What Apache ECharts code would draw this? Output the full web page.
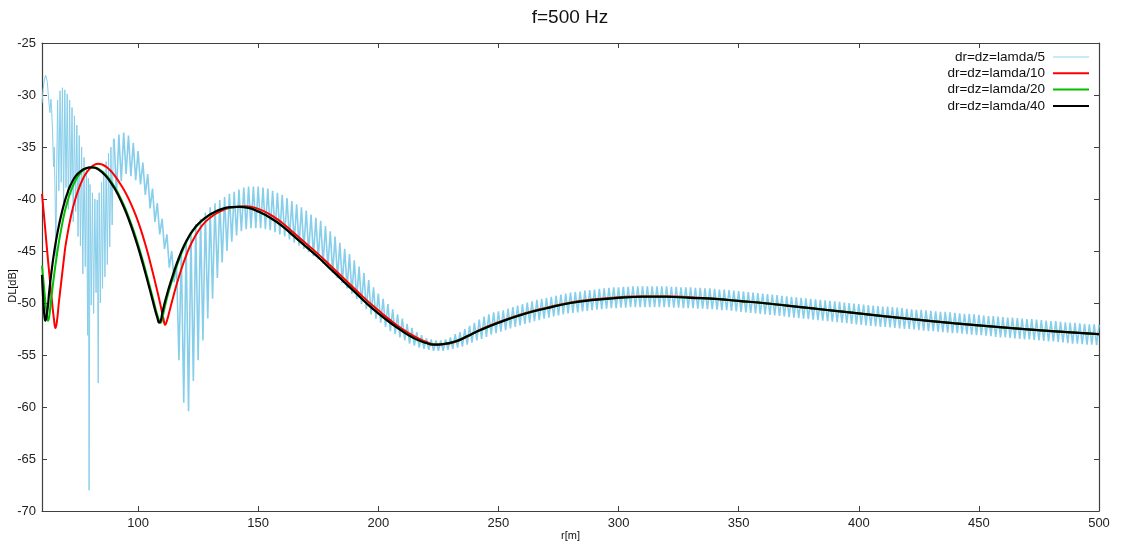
<!DOCTYPE html>
<html>
<head>
<meta charset="utf-8">
<script src="https://cdn.jsdelivr.net/npm/echarts@6.0.0/dist/echarts.min.js"></script>
<style>
  html, body { margin: 0; padding: 0; background: #fff; }
  #chart { width: 1121px; height: 546px; }
</style>
</head>
<body>
<div id="chart"></div>
<script>
// Transmission loss DL[dB] versus range r[m] at 500 Hz for four grid resolutions.

const xTicks = [100, 150, 200, 250, 300, 350, 400, 450, 500];
const seriesNames = ['dr=dz=lamda/5', 'dr=dz=lamda/10', 'dr=dz=lamda/20', 'dr=dz=lamda/40'];

// lamda/5: irregular near-field part, [r, DL]
const blueEarly = [
  [60,-30.8],[60.5,-29.4],[61,-28.5],[61.5,-28.1],[61.8,-28.05],[62.2,-28.7],[62.6,-29.9],[63,-31.0],
  [63.3,-31.7],[63.7,-30.4],[64,-31.3],[64.4,-33.6],[64.8,-36.9],[65.1,-35.0],[65.5,-40.2],[65.8,-45.5],
  [66.1,-37.5],[66.5,-30.5],[67,-39.2],[67.5,-29.6],[68,-38.4],[68.5,-29.3],[69,-40.3],[69.5,-29.5],
  [70,-38.9],[70.5,-29.9],[71,-41.0],[71.5,-30.5],[72,-39.6],[72.5,-31.2],[73,-42.2],[73.5,-32.0],
  [74,-41.2],[74.5,-32.9],[75,-43.6],[75.5,-33.9],[76,-44.5],[76.5,-35.0],[77,-47.2],[77.5,-36.0],
  [78,-46.5],[78.5,-37.0],[79,-53.1],[79.3,-38.0],[79.6,-68.0],[80,-38.6],[80.5,-50.2],[81,-39.4],
  [81.5,-51.0],[82,-40.0],[82.5,-49.0],[83,-40.1],[83.4,-57.7],[83.8,-39.4],[84.3,-50.0],[84.8,-38.4],
  [85.2,-48.6],[85.7,-37.3],[86.2,-47.5],[86.7,-36.4],[87.2,-46.3],[87.7,-35.6],[88.2,-44.6],[88.7,-35.0],
  [89.2,-42.5],[89.7,-34.5]
];
// lamda/5: crests at r = 90, 92, ..., 500
const blueUpper = [
  -34.2,-33.8,-33.6,-33.9,-34.6,-35.4,-36.5,-37.6,-39.0,-40.4,
  -41.9,-43.4,-45.0,-46.3,-45.2,-44.0,-43.3,-42.4,-41.9,-41.3,
  -40.8,-40.4,-40.1,-39.8,-39.5,-39.3,-39.1,-38.9,-38.8,-38.8,
  -38.8,-38.9,-39.0,-39.2,-39.4,-39.6,-39.9,-40.2,-40.5,-40.8,
  -41.1,-41.5,-41.8,-42.1,-42.6,-43.1,-43.6,-44.2,-44.8,-45.3,
  -45.9,-46.5,-47.1,-47.8,-48.5,-49.1,-49.6,-50.1,-50.6,-51.1,
  -51.5,-52.0,-52.4,-52.8,-53.1,-53.4,-53.5,-53.6,-53.6,-53.5,
  -53.3,-53.0,-52.8,-52.5,-52.2,-51.9,-51.6,-51.3,-51.1,-50.9,
  -50.8,-50.7,-50.55,-50.4,-50.25,-50.1,-49.95,-49.85,-49.7,-49.6,
  -49.5,-49.4,-49.3,-49.2,-49.1,-49.0,-48.95,-48.9,-48.8,-48.75,
  -48.7,-48.65,-48.6,-48.55,-48.5,-48.5,-48.45,-48.45,-48.4,-48.4,
  -48.4,-48.4,-48.4,-48.4,-48.4,-48.4,-48.45,-48.45,-48.5,-48.5,
  -48.5,-48.55,-48.55,-48.6,-48.6,-48.65,-48.7,-48.7,-48.75,-48.8,
  -48.85,-48.9,-48.95,-49.0,-49.05,-49.1,-49.15,-49.2,-49.25,-49.3,
  -49.35,-49.4,-49.45,-49.5,-49.55,-49.6,-49.65,-49.7,-49.75,-49.8,
  -49.85,-49.9,-49.95,-50.0,-50.05,-50.1,-50.15,-50.2,-50.25,-50.3,
  -50.35,-50.35,-50.4,-50.45,-50.5,-50.55,-50.6,-50.65,-50.65,-50.7,
  -50.75,-50.8,-50.85,-50.85,-50.9,-50.95,-51.0,-51.05,-51.05,-51.1,
  -51.15,-51.2,-51.25,-51.25,-51.3,-51.35,-51.4,-51.4,-51.45,-51.5,
  -51.55,-51.55,-51.6,-51.65,-51.7,-51.75,-51.75,-51.8,-51.85,-51.9,
  -51.9,-51.95,-52.0,-52.05,-52.05,-52.1
];
// lamda/5: troughs at r = 91, 93, ..., 499
const blueLower = [
  -39.5,-38.3,-37.6,-37.8,-38.2,-38.6,-39.6,-40.9,-42.2,-43.4,
  -44.8,-46.6,-48.0,-55.5,-59.6,-60.4,-57.5,-55.5,-53.6,-51.5,
  -49.6,-47.6,-46.1,-45.0,-44.1,-43.5,-43.1,-42.9,-42.8,-42.8,
  -42.8,-42.9,-43.0,-43.2,-43.4,-43.6,-43.9,-44.2,-44.5,-44.8,
  -45.1,-45.5,-45.8,-46.2,-46.6,-47.1,-47.6,-48.1,-48.6,-49.1,
  -49.6,-50.1,-50.6,-51.1,-51.5,-51.9,-52.3,-52.7,-53.0,-53.3,
  -53.6,-53.9,-54.1,-54.3,-54.4,-54.5,-54.6,-54.6,-54.6,-54.5,
  -54.4,-54.3,-54.2,-54.0,-53.8,-53.6,-53.45,-53.25,-53.05,-52.9,
  -52.75,-52.6,-52.45,-52.3,-52.15,-52.0,-51.9,-51.75,-51.65,-51.5,
  -51.4,-51.3,-51.2,-51.1,-51.0,-50.95,-50.9,-50.8,-50.75,-50.7,
  -50.65,-50.6,-50.55,-50.5,-50.5,-50.45,-50.45,-50.4,-50.4,-50.4,
  -50.4,-50.4,-50.4,-50.4,-50.4,-50.4,-50.45,-50.45,-50.5,-50.5,
  -50.5,-50.55,-50.55,-50.6,-50.6,-50.65,-50.7,-50.7,-50.75,-50.8,
  -50.85,-50.9,-50.95,-51.0,-51.05,-51.1,-51.15,-51.2,-51.25,-51.3,
  -51.35,-51.4,-51.45,-51.5,-51.55,-51.6,-51.65,-51.7,-51.75,-51.8,
  -51.85,-51.9,-51.95,-52.0,-52.05,-52.1,-52.15,-52.2,-52.25,-52.3,
  -52.3,-52.35,-52.4,-52.45,-52.5,-52.5,-52.55,-52.6,-52.65,-52.7,
  -52.7,-52.75,-52.8,-52.85,-52.9,-52.9,-52.95,-53.0,-53.05,-53.1,
  -53.1,-53.15,-53.2,-53.25,-53.3,-53.3,-53.35,-53.4,-53.45,-53.5,
  -53.5,-53.55,-53.6,-53.65,-53.7,-53.7,-53.75,-53.8,-53.85,-53.9,
  -53.9,-53.95,-54.0,-54.0,-54.05
];

// lamda/10, [r, DL]
const redData = [
  [60,-39.5],[61,-42.0],[62,-44.6],[63,-47.1],[64,-49.5],[65,-51.6],[65.6,-52.4],[66.2,-51.8],
  [67,-50.0],[68,-48.0],[69.4,-45.2],[70,-44.2],[72,-41.7],[74,-39.9],[76,-38.6],[78,-37.65],
  [80,-37.05],[82,-36.7],[83.4,-36.6],[85,-36.68],[87,-36.95],[89,-37.4],[91,-38.0],[93,-38.7],
  [95,-39.5],[97,-40.45],[99,-41.55],[101,-42.85],[103,-44.35],[105,-46.05],[107,-47.9],[109,-49.85],
  [110.5,-51.45],[111.3,-52.1],[112,-51.7],[113,-50.85],[114,-49.95],[116,-48.25],[118,-46.75],[120,-45.45],
  [122,-44.35],[125,-43.1],[128,-42.2],[132,-41.45],[136,-41.0],[140,-40.78],[145,-40.7],[150,-40.95],
  [155,-41.5],[160,-42.3],[165,-43.3],[170,-44.3],[175,-45.3],[180,-46.4],[185,-47.5],[190,-48.6],
  [195,-49.7],[200,-50.7],[205,-51.65],[210,-52.5],[215,-53.2],[220,-53.75],[224,-54.0],[228,-53.95],
  [233,-53.65],[238,-53.1],[243,-52.5],[250,-51.85],[260,-51.05],[270,-50.45],[280,-49.95],[290,-49.65],
  [300,-49.45],[310,-49.35],[320,-49.35],[330,-49.45],[340,-49.6],[350,-49.8],[360,-50.0],[370,-50.25],
  [380,-50.5],[390,-50.75],[400,-51.0],[420,-51.5],[440,-51.95],[460,-52.35],[480,-52.7],[500,-53.0]
];

// lamda/20, [r, DL]
const greenData = [
  [60,-46.4],[61,-48.9],[62,-51.1],[62.5,-51.7],[63,-51.3],[64,-49.3],[65,-47.4],[66,-45.7],
  [67,-44.2],[68,-42.9],[69.5,-41.2],[71,-39.95],[72,-39.25],[74,-38.2],[76,-37.5],[78,-37.1],
  [80.5,-36.95],[82,-36.97],[84,-37.18],[86,-37.55],[88,-38.08],[90,-38.75],[92,-39.58],[94,-40.55],
  [96,-41.68],[98,-42.95],[100,-44.38],[102,-45.95],[104,-47.65],[106,-49.4],[107,-50.3],[108,-51.15],
  [109,-51.8],[109.5,-51.9],[110,-51.55],[111,-50.5],[112,-49.55],[113,-48.7],[115,-47.2],[117,-45.85],
  [119,-44.7],[121,-43.75],[123,-43.0],[125,-42.45],[128,-41.85],[131,-41.38],[135,-40.97],[139,-40.79],
  [142,-40.75],[146,-40.85],[150,-41.2],[155,-41.8],[160,-42.6],[165,-43.6],[170,-44.6],[175,-45.6],
  [180,-46.7],[185,-47.8],[190,-48.9],[195,-50.0],[200,-51.0],[205,-51.9],[210,-52.7],[215,-53.4],
  [220,-53.85],[223,-54.0],[227,-53.95],[232,-53.7],[237,-53.2],[242,-52.65],[250,-51.9],[260,-51.1],
  [270,-50.5],[280,-50.0],[290,-49.7],[300,-49.5],[310,-49.4],[320,-49.4],[330,-49.5],[340,-49.6],
  [350,-49.8],[360,-50.0],[370,-50.25],[380,-50.5],[390,-50.75],[400,-51.0],[420,-51.5],[440,-51.95],
  [460,-52.35],[480,-52.7],[500,-53.0]
];

// lamda/40, [r, DL]
const blackData = [
  [60,-47.3],[60.5,-49.6],[61,-51.2],[61.4,-51.7],[61.8,-51.4],[62.5,-50.2],[63,-48.9],[64,-46.9],
  [65,-45.2],[66,-43.8],[67,-42.6],[68,-41.55],[69.5,-40.2],[71,-39.15],[72,-38.6],[74,-37.8],
  [76,-37.35],[78,-37.07],[80.5,-36.95],[82,-37.0],[84,-37.25],[86,-37.65],[88,-38.2],[90,-38.9],
  [92,-39.75],[94,-40.75],[96,-41.9],[98,-43.2],[100,-44.65],[102,-46.25],[104,-47.95],[106,-49.7],
  [107,-50.6],[108,-51.4],[108.8,-51.9],[109.5,-51.65],[110,-51.05],[111,-50.05],[112,-49.2],[113,-48.4],
  [115,-46.95],[117,-45.65],[119,-44.55],[121,-43.65],[123,-42.95],[125,-42.4],[128,-41.8],[131,-41.35],
  [135,-40.95],[139,-40.78],[142,-40.75],[146,-40.85],[150,-41.2],[155,-41.8],[160,-42.6],[165,-43.6],
  [170,-44.6],[175,-45.6],[180,-46.7],[185,-47.8],[190,-48.9],[195,-50.0],[200,-51.0],[205,-51.9],
  [210,-52.7],[215,-53.4],[220,-53.85],[223,-54.0],[227,-53.95],[232,-53.7],[237,-53.2],[242,-52.65],
  [250,-51.9],[260,-51.1],[270,-50.5],[280,-50.0],[290,-49.7],[300,-49.5],[310,-49.4],[320,-49.4],
  [330,-49.5],[340,-49.6],[350,-49.8],[360,-50.0],[370,-50.25],[380,-50.5],[390,-50.75],[400,-51.0],
  [420,-51.5],[440,-51.95],[460,-52.35],[480,-52.7],[500,-53.0]
];

// Far-field part of the coarse solution: crests and troughs interleaved,
// joined to the last near-field point so the trace is continuous.
const blueFar = [blueEarly[blueEarly.length - 1]];
for (let i = 0; i < blueUpper.length; i++) {
  blueFar.push([90 + 2 * i, blueUpper[i]]);
  if (i < blueLower.length) blueFar.push([91 + 2 * i, blueLower[i]]);
}

const FONT = 'Liberation Sans, Arial, sans-serif';
const AXIS_COLOR = '#404040';
const SKY = '#87ceeb';

const chart = echarts.init(document.getElementById('chart'), null, { renderer: 'canvas' });

const tickStyle = { show: true, inside: true, length: 5, lineStyle: { color: AXIS_COLOR, width: 1 } };
const lineStyleAxis = { show: true, lineStyle: { color: AXIS_COLOR, width: 1.2 } };

function curve(name, data, color, width, z) {
  return {
    name: name,
    type: 'line',
    data: data,
    smooth: 0.5,
    showSymbol: false, symbol: 'none',
    lineStyle: { color: color, width: width },
    itemStyle: { color: color },
    z: z
  };
}

chart.setOption({
  animation: false,
  backgroundColor: '#ffffff',
  graphic: [{
    type: 'text',
    x: 570, y: 18,
    style: {
      text: 'f=500 Hz',
      font: '19px ' + FONT,
      fill: '#111',
      textAlign: 'center',
      textVerticalAlign: 'middle'
    }
  }],
  legend: {
    orient: 'vertical',
    right: 27,
    top: 45,
    align: 'right',
    icon: 'rect',
    itemWidth: 36,
    itemHeight: 2,
    itemGap: 2.3,
    textStyle: { fontFamily: FONT, fontSize: 13.5, color: '#111', padding: [0, 3, 0, 0], lineHeight: 14 },
    data: [
      { name: seriesNames[0], itemStyle: { color: '#cbe8f6' } },
      { name: seriesNames[1] },
      { name: seriesNames[2] },
      { name: seriesNames[3] }
    ]
  },
  grid: {
    left: 42, right: 22, top: 43, bottom: 35,
    outerBoundsMode: 'none'
  },
  xAxis: [{
    type: 'value',
    min: 60, max: 500,
    position: 'bottom',
    name: 'r[m]',
    nameLocation: 'middle',
    nameGap: 19,
    nameMoveOverlap: false,
    nameTextStyle: { fontFamily: FONT, fontSize: 11, color: '#111' },
    axisLine: lineStyleAxis,
    axisTick: Object.assign({}, tickStyle, { customValues: xTicks }),
    axisLabel: { customValues: xTicks, fontFamily: FONT, fontSize: 13, color: '#222', margin: 6 },
    splitLine: { show: false }
  }, {
    type: 'value',
    min: 60, max: 500,
    position: 'top',
    axisLine: lineStyleAxis,
    axisTick: Object.assign({}, tickStyle, { customValues: xTicks }),
    axisLabel: { show: false },
    splitLine: { show: false }
  }],
  yAxis: [{
    type: 'value',
    min: -70, max: -25, interval: 5,
    position: 'left',
    name: 'DL[dB]',
    nameLocation: 'middle',
    nameGap: 24,
    nameMoveOverlap: false,
    nameTextStyle: { fontFamily: FONT, fontSize: 11, color: '#111', padding: [0, 18, 0, 0] },
    axisLine: lineStyleAxis,
    axisTick: tickStyle,
    axisLabel: { fontFamily: FONT, fontSize: 13, color: '#222', margin: 6, padding: [5, 0, 0, 0] },
    splitLine: { show: false }
  }, {
    type: 'value',
    min: -70, max: -25, interval: 5,
    position: 'right',
    axisLine: lineStyleAxis,
    axisTick: tickStyle,
    axisLabel: { show: false },
    splitLine: { show: false }
  }],
  series: [
    {
      name: seriesNames[0], type: 'line', data: blueEarly,
      showSymbol: false, symbol: 'none',
      lineStyle: { color: SKY, width: 1 }, itemStyle: { color: SKY }, z: 1
    },
    {
      name: seriesNames[0], type: 'line', data: blueFar,
      showSymbol: false, symbol: 'none',
      lineStyle: { color: SKY, width: 1.6 }, itemStyle: { color: SKY }, z: 1
    },
    curve(seriesNames[1], redData, '#ff0000', 2, 2),
    curve(seriesNames[2], greenData, '#00c000', 2, 3),
    curve(seriesNames[3], blackData, '#000000', 2.2, 4)
  ]
});
</script>
</body>
</html>
